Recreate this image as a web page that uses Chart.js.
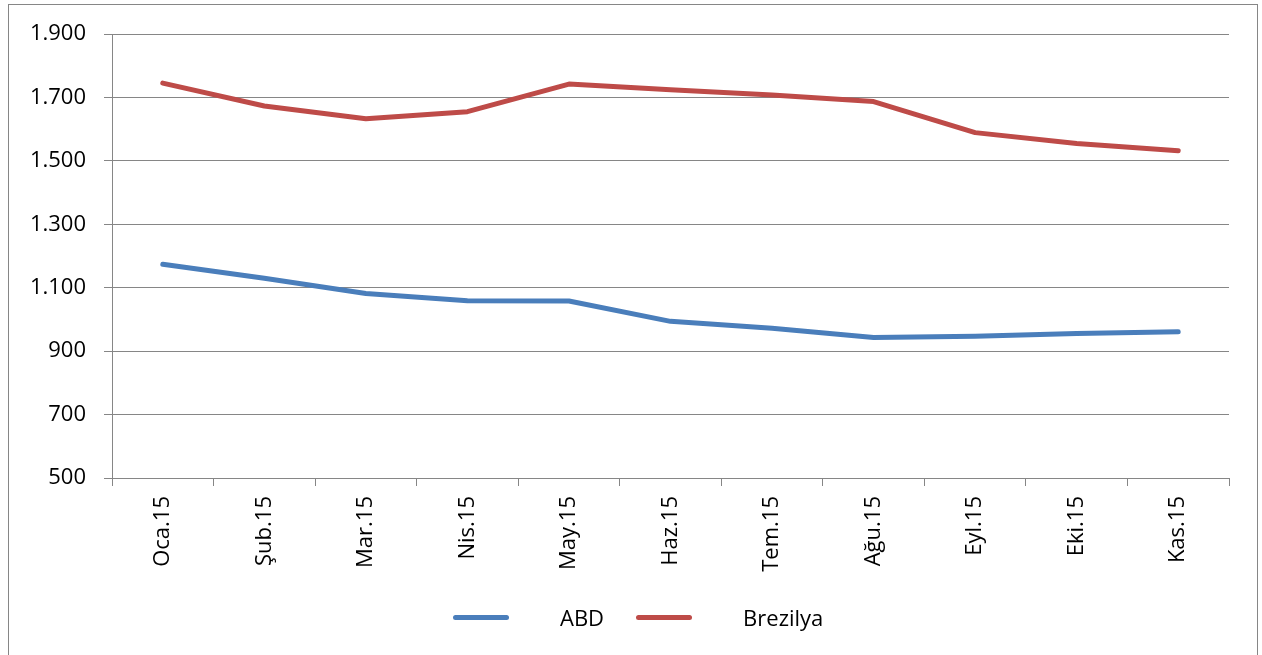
<!DOCTYPE html>
<html>
<head>
<meta charset="utf-8">
<script src="https://cdn.jsdelivr.net/npm/chart.js@4/dist/chart.umd.min.js"></script>
<style>
  body { margin: 0; background: #fff; }
  .wrap { position: relative; width: 1262px; height: 655px; overflow: hidden; }
  .legend {
    position: absolute; left: 453px; top: 604px; height: 26px;
    display: flex; align-items: center;
    font-family: 'Open Sans', sans-serif; font-size: 22px; color: #000;
  }
  .legend .swatch { width: 56px; height: 5px; border-radius: 3px; }
  .legend .txt { margin-left: 51px; margin-right: 32px; }
</style>
</head>
<body>
<div class="wrap">
  <canvas class="line-chart" width="1262" height="655"></canvas>
  <div class="legend"></div>
</div>
<script>
const months = ['Oca.15', 'Şub.15', 'Mar.15', 'Nis.15', 'May.15', 'Haz.15',
  'Tem.15', 'Ağu.15', 'Eyl.15', 'Eki.15', 'Kas.15'];

const abd = [1174, 1130, 1082, 1059, 1058, 994, 972, 943, 947, 956, 961];
const brezilya = [1745, 1673, 1633, 1655, 1742, 1724, 1708, 1687, 1589, 1555, 1532];

const seriesNames = ['ABD', 'Brezilya'];
const seriesColors = ['#4a7ebb', '#be4b48'];
const gridColor = '#868686';

// 1900 -> "1.900"
const formatTick = (value) => String(value).replace(/\B(?=(\d{3})+(?!\d))/g, '.');

// outer frame of the chart object
const framePlugin = {
  id: 'frame',
  beforeDraw(chart) {
    const { ctx } = chart;
    ctx.save();
    ctx.fillStyle = '#fff';
    ctx.fillRect(0, 0, chart.width, chart.height);
    ctx.strokeStyle = gridColor;
    ctx.lineWidth = 1;
    ctx.strokeRect(8.5, 4.5, 1249, 700);
    ctx.restore();
  },
};

const renderLegend = (chart) => {
  const box = document.querySelector('.legend');
  chart.data.datasets.forEach((ds) => {
    const swatch = document.createElement('span');
    swatch.className = 'swatch';
    swatch.style.background = ds.borderColor;
    const txt = document.createElement('span');
    txt.className = 'txt';
    txt.textContent = ds.label;
    box.appendChild(swatch);
    box.appendChild(txt);
  });
};

Chart.defaults.font.family = "'Open Sans', sans-serif";
Chart.defaults.font.size = 22;
Chart.defaults.color = '#000';

const lineChart = document.querySelector('.line-chart');

// eslint-disable-next-line no-undef
const chart = new Chart(lineChart, {
  type: 'line',
  data: {
    labels: months,
    datasets: [abd, brezilya].map((values, i) => ({
      label: seriesNames[i],
      data: values,
      borderColor: seriesColors[i],
      backgroundColor: seriesColors[i],
      borderWidth: 5,
      borderCapStyle: 'round',
      borderJoinStyle: 'round',
      pointRadius: 0,
      tension: 0,
    })),
  },
  options: {
    responsive: false,
    animation: false,
    layout: { padding: { left: 10, top: 34, right: 33, bottom: 77 } },
    plugins: {
      legend: { display: false },
      tooltip: { enabled: false },
    },
    scales: {
      x: {
        offset: true,
        grid: {
          offset: true,
          drawOnChartArea: false,
          color: gridColor,
          tickLength: 8,
        },
        border: { color: gridColor },
        ticks: { minRotation: 90, maxRotation: 90, padding: 10 },
        afterFit: (scale) => { scale.height = 100; },
      },
      y: {
        min: 500,
        max: 1900,
        grid: { color: gridColor, tickLength: 8 },
        border: { color: gridColor },
        ticks: { stepSize: 200, padding: 18, callback: formatTick },
        afterFit: (scale) => { scale.width = 102; },
      },
    },
  },
  plugins: [framePlugin],
});

renderLegend(chart);
</script>
</body>
</html>
